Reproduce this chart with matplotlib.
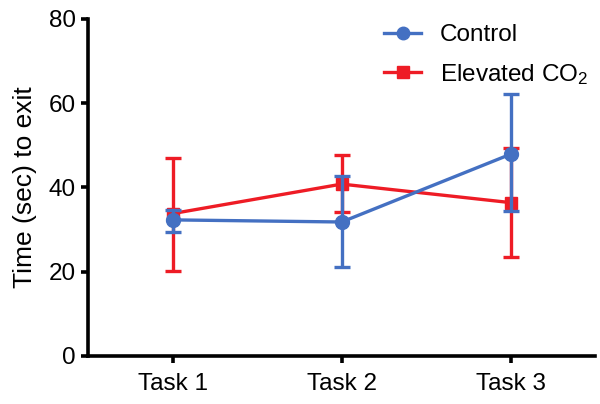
import matplotlib
matplotlib.use("Agg")
import matplotlib.pyplot as plt
from matplotlib.lines import Line2D

plt.rcParams['font.family'] = ['Liberation Sans', 'DejaVu Sans']
plt.rcParams['mathtext.fontset'] = 'custom'
plt.rcParams['mathtext.rm'] = 'Liberation Sans'
plt.rcParams['mathtext.it'] = 'Liberation Sans'

tasks = ["Task 1", "Task 2", "Task 3"]
control_mean = [32.3, 31.8, 47.9]
control_low = [29.5, 21.1, 34.3]
control_high = [34.6, 42.7, 62.1]
co2_mean = [33.8, 40.8, 36.4]
co2_low = [20.1, 34.1, 23.5]
co2_high = [47.0, 47.7, 49.3]

blue = "#4470C2"
red = "#EE1C25"

fig = plt.figure(figsize=(6.0, 4.04), dpi=100)
ax = fig.add_axes([0.147, 0.119, 0.845, 0.834])

x = list(range(1, len(tasks) + 1))

def err(mean, low, high):
    return [[m - l for m, l in zip(mean, low)], [h - m for m, h in zip(mean, high)]]

ax.errorbar(x, co2_mean, yerr=err(co2_mean, co2_low, co2_high), color=red,
            marker='s', markersize=9, linewidth=2.4, elinewidth=2.4,
            capsize=6, capthick=2.4, zorder=2)
ax.errorbar(x, control_mean, yerr=err(control_mean, control_low, control_high), color=blue,
            marker='o', markersize=10, linewidth=2.4, elinewidth=2.4,
            capsize=6, capthick=2.4, zorder=3)

ax.set_xlim(0.5, 3.5)
ax.set_ylim(0, 80)
ax.set_yticks([0, 20, 40, 60, 80])
ax.set_xticks(x)
ax.set_xticklabels(tasks)
ax.tick_params(axis='both', labelsize=17.5, width=2.6, length=5, direction='out', color='black')
ax.tick_params(axis='x', pad=7)
ax.tick_params(axis='y', pad=4)
ax.spines['top'].set_visible(False)
ax.spines['right'].set_visible(False)
ax.spines['left'].set_linewidth(2.6)
ax.spines['bottom'].set_linewidth(2.6)
ax.set_ylabel("Time (sec) to exit", fontsize=19, labelpad=8)

handles = [
    Line2D([], [], color=blue, marker='o', markersize=9, linewidth=2.4),
    Line2D([], [], color=red, marker='s', markersize=8, linewidth=2.4),
]
labels = ["Control", "Elevated CO$_2$"]
leg = ax.legend(handles, labels, loc='upper right', bbox_to_anchor=(1.03, 1.05),
                frameon=False, fontsize=17.5, handlelength=1.5, labelspacing=0.65,
                handletextpad=0.8)

fig.savefig("out.png", dpi=100)
